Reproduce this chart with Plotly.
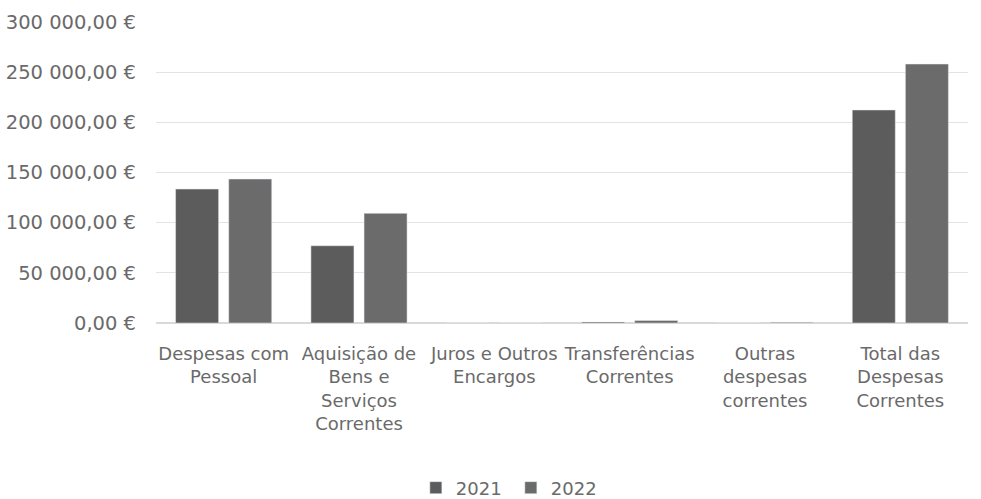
import plotly.graph_objects as go

categories = [
    "Despesas com<br>Pessoal",
    "Aquisição de<br>Bens e<br>Serviços<br>Correntes",
    "Juros e Outros<br>Encargos",
    "Transferências<br>Correntes",
    "Outras<br>despesas<br>correntes",
    "Total das<br>Despesas<br>Correntes",
]
values_2021 = [133500, 77000, 0, 1000, 0, 212300]
values_2022 = [143500, 109300, 0, 2500, 700, 258100]
tick_values = [0, 50000, 100000, 150000, 200000, 250000, 300000]
tick_labels = ["0,00 €", "50 000,00 €", "100 000,00 €", "150 000,00 €",
               "200 000,00 €", "250 000,00 €", "300 000,00 €"]

font_family = "'DejaVu Sans', sans-serif"
text_color = "#6a6a6a"

fig = go.Figure()
fig.add_trace(go.Bar(name="2021", x=categories, y=values_2021,
                     marker=dict(color="#5c5c5c")))
fig.add_trace(go.Bar(name="2022", x=categories, y=values_2022,
                     marker=dict(color="#6b6b6b")))

fig.update_layout(
    width=981, height=499,
    margin=dict(l=156, r=13, t=22, b=176, autoexpand=False),
    paper_bgcolor="white", plot_bgcolor="white",
    barmode="group", bargap=0.215, bargroupgap=0.19,
    font=dict(family=font_family, size=18, color=text_color),
    showlegend=True,
    legend=dict(orientation="h", x=0.437, xanchor="center", y=-0.548, yanchor="middle",
                font=dict(size=18, color=text_color), itemwidth=30, entrywidth=50,
                traceorder="normal"),
)
fig.update_yaxes(range=[0, 300000], tickvals=tick_values, ticktext=tick_labels,
                 tickfont=dict(size=19.5),
                 showgrid=True, gridcolor="#e3e3e3", gridwidth=1,
                 zeroline=True, zerolinecolor="#d9d9d9", ticks="", showline=False,
                 ticklabelstandoff=19, automargin=False)
fig.update_xaxes(showgrid=False, ticks="", showline=False, tickangle=0,
                 tickfont=dict(size=18),
                 ticklabelstandoff=18, automargin=False)

fig.write_html("out.html", config={"displayModeBar": False},
               post_script="document.body.style.margin='0';")
